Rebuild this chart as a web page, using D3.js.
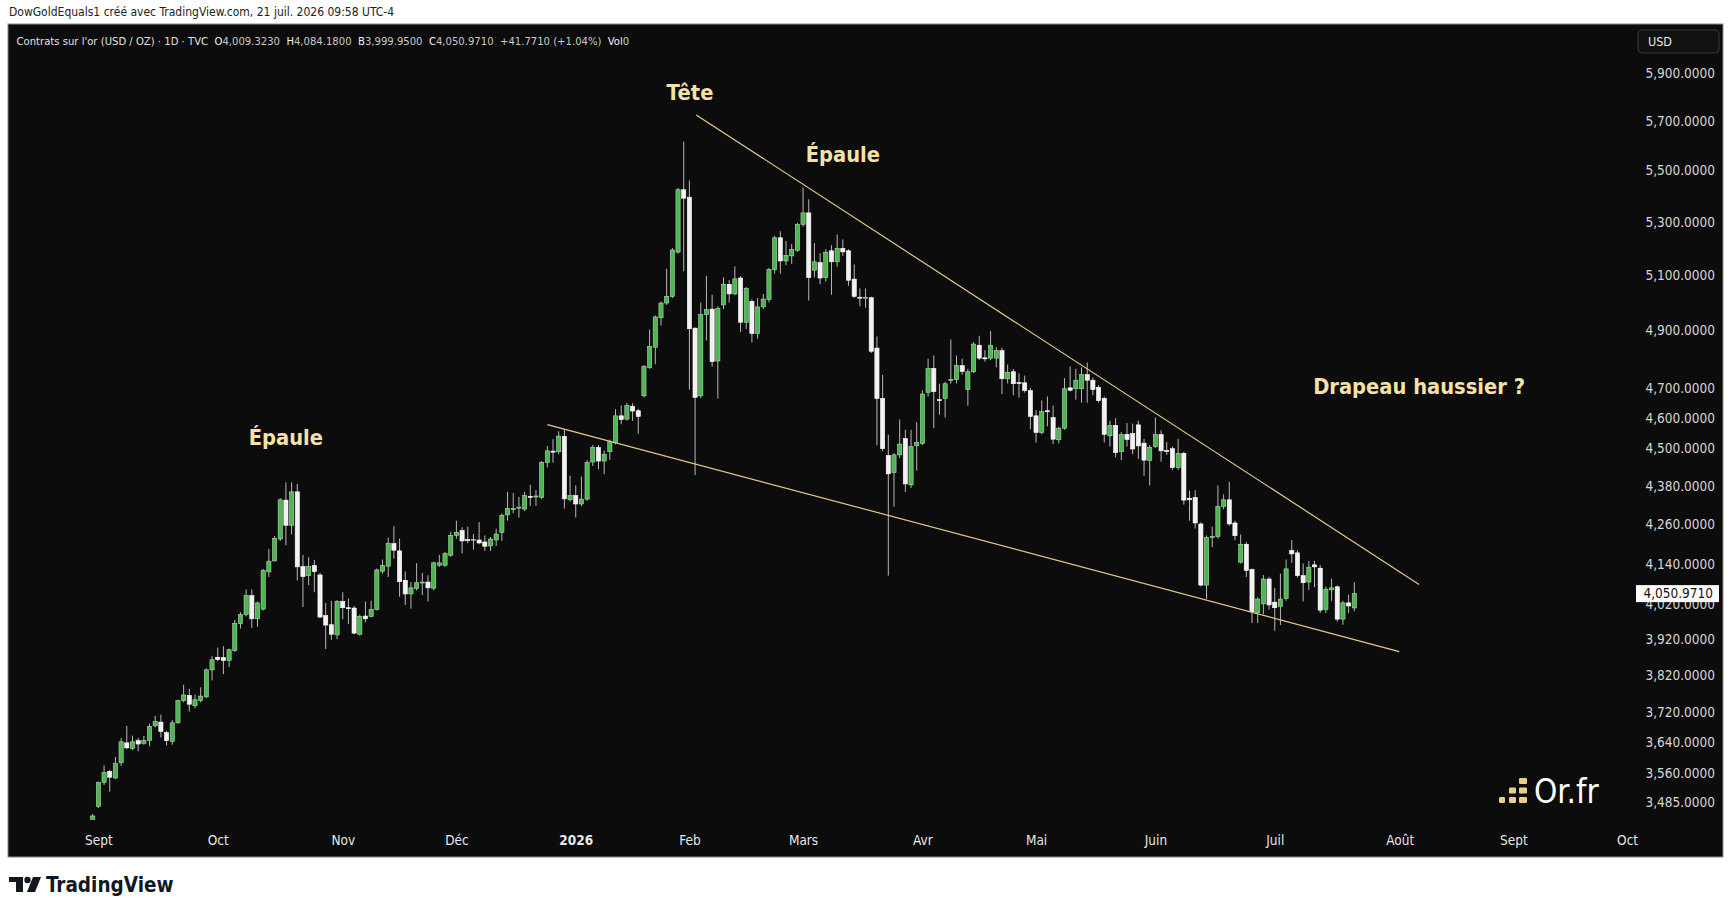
<!DOCTYPE html>
<html>
<head>
<meta charset="utf-8">
<script src="https://cdn.jsdelivr.net/npm/d3@7"></script>
<style>
  body { margin: 0; background: #ffffff; }
  svg { display: block; }
  text { font-family: "DejaVu Sans Condensed", "DejaVu Sans", sans-serif; font-stretch: condensed; }
  .legend { white-space: pre; }
</style>
</head>
<body>
<div id="chart"></div>
<script>
// daily candles [open, high, low, close]
const sep = [
  [3435,3455,3428,3450],[3474,3537,3470,3534],[3535,3578,3528,3560],[3563,3567,3511,3548],
  [3546,3600,3543,3583],[3585,3650,3577,3640],[3637,3682,3620,3624],[3622,3656,3618,3640],
  [3643,3650,3615,3634],[3636,3655,3632,3643],[3643,3688,3628,3681],[3682,3709,3678,3694],
  [3692,3712,3651,3667],[3664,3668,3630,3643],[3641,3698,3632,3690],[3690,3752,3688,3750],
  [3750,3793,3745,3765],[3764,3782,3720,3740],[3736,3766,3729,3752],[3750,3786,3745,3762],
  [3760,3838,3757,3834],[3834,3873,3805,3862]
];
const oct = [
  [3869,3896,3858,3863],[3868,3900,3822,3860],[3860,3893,3842,3890],[3888,3975,3884,3965],
  [3964,3997,3950,3990],[3990,4063,3985,4045],[4045,4063,3952,3978],[3978,4028,3955,4024],
  [4006,4124,4002,4119],[4115,4184,4100,4147],[4148,4223,4146,4216],[4214,4340,4208,4335],
  [4334,4390,4195,4256],[4256,4390,4228,4360],[4360,4385,4090,4130],[4131,4166,4012,4101],
  [4104,4159,4076,4131],[4134,4151,4055,4116],[4106,4112,3980,3983],[3987,4024,3892,3960],
  [3961,4030,3918,3934],[3932,4032,3920,4028]
];
const nov = [
  [4028,4055,3977,4010],[4010,4037,3963,4008],[4009,4015,3934,3937],[3934,3990,3930,3985],
  [3986,4028,3968,3978],[3985,4030,3982,4005],[4005,4125,4002,4121],[4117,4152,4110,4134],
  [4132,4218,4100,4201],[4200,4253,4155,4180],[4178,4215,4042,4086],[4090,4116,4018,4050],
  [4050,4085,4007,4068],[4066,4141,4060,4083],[4083,4112,4047,4085],[4085,4105,4028,4068],
  [4067,4146,4060,4142],[4135,4166,4130,4142],[4135,4175,4130,4170],[4165,4236,4160,4225]
];
const dec = [
  [4225,4270,4215,4234],[4240,4250,4170,4208],[4212,4252,4201,4210],[4211,4229,4182,4213],
  [4211,4266,4198,4202],[4205,4225,4178,4192],[4193,4220,4178,4214],[4211,4245,4193,4229],
  [4234,4292,4208,4287],[4288,4360,4270,4308],[4306,4356,4293,4308],[4310,4344,4280,4312],
  [4306,4360,4300,4348],[4346,4382,4316,4344],[4345,4365,4316,4347],[4343,4458,4338,4453],
  [4453,4507,4437,4491],[4490,4529,4453,4488],[4488,4555,4480,4539],[4538,4560,4308,4338],
  [4335,4411,4330,4348]
];
const jan = [
  [4348,4380,4280,4322],[4322,4409,4315,4337],[4337,4461,4332,4453],[4455,4510,4442,4502],
  [4502,4510,4432,4458],[4458,4492,4416,4480],[4488,4528,4462,4521],[4518,4628,4512,4606],
  [4606,4640,4578,4594],[4595,4649,4590,4640],[4638,4648,4589,4622],[4623,4630,4547,4604],
  [4673,4778,4668,4773],[4770,4902,4765,4843],[4840,4952,4781,4947],[4944,5002,4916,4997],
  [4997,5122,4990,5021],[5021,5200,5015,5192],[5184,5430,5178,5423],[5423,5615,5113,5390]
];
const feb = [
  [5394,5460,4694,4905],[4907,4910,4413,4668],[4673,4999,4665,4955],[4955,5096,4864,4973],
  [4975,5027,4773,4790],[4792,4985,4664,4978],[4990,5090,4975,5065],[5065,5080,4999,5030],
  [5030,5131,5025,5085],[5088,5095,4893,4928],[4928,5055,4904,5050],[5003,5010,4857,4888],
  [4888,5015,4870,4983],[4983,5030,4975,5011],[5009,5125,4999,5119],[5119,5245,5104,5238],
  [5238,5263,5104,5151],[5151,5226,5135,5172],[5170,5215,5140,5194],[5191,5295,5185,5289]
];
const mar = [
  [5289,5432,5280,5333],[5333,5386,5006,5090],[5117,5218,5090,5148],[5145,5180,5065,5088],
  [5090,5195,5075,5184],[5189,5210,5027,5148],[5148,5251,5130,5198],[5198,5232,5170,5185],
  [5189,5195,5060,5080],[5084,5138,5015,5021],[5018,5050,4985,5016],[5016,5050,4980,5018],
  [5016,5020,4820,4826],[4837,4878,4509,4664],[4664,4744,4490,4498],[4476,4544,4104,4417],
  [4421,4484,4314,4478],[4478,4594,4468,4513],[4531,4560,4360,4385],[4382,4560,4372,4505],
  [4508,4585,4427,4518]
];
const apr = [
  [4515,4692,4510,4679],[4685,4800,4670,4766],[4766,4811,4565,4687],[4660,4714,4610,4658],
  [4664,4720,4600,4714],[4726,4867,4714,4729],[4728,4811,4715,4776],[4776,4800,4745,4756],
  [4694,4765,4640,4755],[4755,4858,4750,4851],[4847,4880,4795,4802],[4803,4830,4790,4802],
  [4802,4897,4795,4847],[4802,4840,4770,4828],[4828,4838,4679,4731],[4731,4780,4715,4753],
  [4755,4765,4675,4714],[4718,4749,4667,4716],[4717,4742,4684,4691],[4691,4700,4562,4604]
];
const may = [
  [4606,4625,4518,4551],[4551,4657,4545,4620],[4623,4671,4571,4620],[4600,4640,4513,4529],
  [4527,4570,4515,4565],[4565,4733,4560,4697],[4700,4773,4688,4692],[4697,4765,4660,4726],
  [4697,4770,4650,4745],[4745,4787,4650,4726],[4726,4735,4675,4694],[4702,4710,4650,4657],
  [4664,4670,4518,4545],[4540,4590,4505,4574],[4574,4598,4470,4485],[4488,4552,4461,4544],
  [4545,4582,4505,4528],[4547,4580,4480,4497],[4576,4590,4465,4507],[4516,4530,4411,4461],
  [4460,4510,4380,4502]
];
const jun = [
  [4505,4600,4500,4544],[4544,4558,4456,4491],[4492,4520,4478,4490],[4498,4505,4430,4437],
  [4437,4530,4430,4483],[4483,4488,4320,4334],[4340,4364,4270,4335],[4342,4365,4246,4263],
  [4260,4265,4072,4076],[4076,4225,4035,4218],[4220,4252,4189,4222],[4221,4380,4215,4314],
  [4314,4352,4305,4335],[4335,4392,4255,4260],[4263,4270,4210,4224],[4144,4228,4140,4198],
  [4198,4205,4100,4119],[4122,4125,3966,3998],[3996,4040,3966,4035],[4021,4106,3991,4094],
  [4094,4100,4005,4018]
];
const jul = [
  [4026,4068,3944,4010],[4014,4110,3960,4035],[4037,4152,4030,4124],[4179,4211,4142,4169],
  [4172,4180,4098,4104],[4104,4140,4028,4083],[4085,4148,4062,4129],[4136,4148,4070,4130],
  [4126,4135,3995,4003],[4005,4072,3995,4064],[4062,4095,4030,4068],[4071,4075,3970,3977],
  [3977,4030,3961,4024],[4024,4048,3995,4015],[4009.323,4084.18,3999.95,4050.971]
];

// axes
const monthLabels = ["Sept","Oct","Nov","Déc","2026","Feb","Mars","Avr","Mai","Juin","Juil","Août","Sept","Oct"];
const monthIdx    = [1, 22, 44, 64, 85, 105, 125, 146, 166, 187, 208, 230, 250, 270];
const priceTicks  = [5900,5700,5500,5300,5100,4900,4700,4600,4500,4380,4260,4140,4020,3920,3820,3720,3640,3560,3485];
const lastPrice = 4050.971;

// drawings
const upperLine = [[106.2, 5724], [233.4, 4078]];
const lowerLine = [[80.0, 4577], [229.9, 3885]];
const noteLabels = ["Tête", "Épaule", "Épaule", "Drapeau haussier ?"];
const noteIdx    = [105.1, 132, 34, 233.4];
const notePrice  = [5810, 5555, 4530, 4700];

const W = 1732, H = 908;
const panel = {left: 8, top: 24, right: 1723, bottom: 857};

const svg = d3.select("#chart")
    .append("svg")
    .attr("width", W)
    .attr("height", H);

svg.append("rect").attr("width", W).attr("height", H).attr("fill", "#ffffff");

// top caption
svg.append("text")
    .attr("x", 9).attr("y", 16)
    .attr("font-size", 12)
    .attr("fill", "#222")
    .text("DowGoldEquals1 créé avec TradingView.com, 21 juil. 2026 09:58 UTC-4");

svg.append("rect")
    .attr("x", panel.left).attr("y", panel.top)
    .attr("width", panel.right - panel.left)
    .attr("height", panel.bottom - panel.top)
    .attr("fill", "#0c0c0c")
    .attr("stroke", "#8a8a8a")
    .attr("stroke-width", 1);

const bars = [].concat(sep, oct, nov, dec, jan, feb, mar, apr, may, jun, jul)
    .map((d, i) => ({i: i, o: d[0], h: d[1], l: d[2], c: d[3]}));

// Scales
const x = d3.scaleLinear()
    .domain([0, bars.length - 1])
    .range([92.7, 1354.3]);

const y = d3.scaleLog()
    .domain([3485, 5900])
    .range([802, 73]);

svg.append("defs").append("clipPath")
    .attr("id", "plot-clip")
    .append("rect")
    .attr("x", panel.left).attr("y", 60)
    .attr("width", 1630 - panel.left).attr("height", 820 - 60);

// legend line
const legend = svg.append("text")
    .attr("class", "legend")
    .attr("x", 16.5).attr("y", 45)
    .attr("font-size", 11.2)
    .attr("fill", "#e0e0e0");
legend.append("tspan").text("Contrats sur l'or (USD / OZ) · 1D · TVC  ");
[["O","4,009.3230"],["H","4,084.1800"],["B","3,999.9500"],["C","4,050.9710"]].forEach(p => {
    legend.append("tspan").attr("fill", "#f2f2f2").text(p[0]);
    legend.append("tspan").attr("fill", "#c8c8c8").text(p[1] + "  ");
});
legend.append("tspan").attr("fill", "#c8c8c8").text("+41.7710 (+1.04%)  ");
legend.append("tspan").attr("fill", "#f2f2f2").text("Vol");
legend.append("tspan").attr("fill", "#c8c8c8").text("0");

// USD button
svg.append("rect")
    .attr("x", 1638).attr("y", 30)
    .attr("width", 81).attr("height", 23).attr("rx", 4)
    .attr("fill", "#111").attr("stroke", "#3a3a3a");
svg.append("text")
    .attr("x", 1648).attr("y", 42)
    .attr("dominant-baseline", "middle")
    .attr("font-size", 12.5)
    .attr("fill", "#e8e8e8")
    .text("USD");

// Price axis
const yAxis = svg.append("g")
    .attr("transform", "translate(1715,0)")
    .call(d3.axisRight(y)
        .tickValues(priceTicks)
        .tickFormat(d3.format(",.4f"))
        .tickSize(0));
yAxis.select(".domain").remove();
yAxis.selectAll("text")
    .attr("x", 0).attr("dy", "0.35em")
    .attr("text-anchor", "end")
    .attr("font-family", null)
    .attr("font-size", 13.5)
    .attr("fill", "#d6d6d6");

// Time axis
const xAxis = svg.append("g")
    .attr("transform", "translate(0,833)")
    .call(d3.axisBottom(x)
        .tickValues(monthIdx)
        .tickFormat((d, i) => monthLabels[i])
        .tickSize(0));
xAxis.select(".domain").remove();
xAxis.selectAll("text")
    .attr("y", 7).attr("dy", "0.35em")
    .attr("font-family", null)
    .attr("font-size", 13.5)
    .attr("font-weight", (d, i) => monthLabels[i] == "2026" ? "bold" : null)
    .attr("fill", "#e6e6e6");

// Candles
const plot = svg.append("g").attr("clip-path", "url(#plot-clip)");
const bw = 4.2;

plot.selectAll(".wick")
    .data(bars)
    .enter()
    .append("line")
    .attr("class", "wick")
    .attr("x1", d => x(d.i)).attr("x2", d => x(d.i))
    .attr("y1", d => y(d.h)).attr("y2", d => y(d.l))
    .attr("stroke", "#b8b8b8")
    .attr("stroke-width", 1);

plot.selectAll(".body")
    .data(bars)
    .enter()
    .append("rect")
    .attr("class", "body")
    .attr("x", d => x(d.i) - bw / 2)
    .attr("width", bw)
    .attr("y", d => y(Math.max(d.o, d.c)))
    .attr("height", d => Math.max(1, Math.abs(y(d.o) - y(d.c))))
    .attr("fill", d => d.c > d.o ? "#4fb553" : "#f2f2f2")
    .attr("stroke", d => d.c > d.o ? "#a8dca9" : "#ffffff")
    .attr("stroke-width", 0.6);

// Trend lines
[upperLine, lowerLine].forEach(seg => {
    plot.append("line")
        .attr("x1", x(seg[0][0])).attr("y1", y(seg[0][1]))
        .attr("x2", x(seg[1][0])).attr("y2", y(seg[1][1]))
        .attr("stroke", "#e3c98c")
        .attr("stroke-width", 1.2);
});

// Notes
svg.selectAll(".note")
    .data(noteLabels)
    .enter()
    .append("text")
    .attr("class", "note")
    .attr("x", (d, i) => x(noteIdx[i]))
    .attr("y", (d, i) => y(notePrice[i]))
    .attr("text-anchor", "middle")
    .attr("dominant-baseline", "middle")
    .attr("font-size", 21.7)
    .attr("font-weight", "bold")
    .attr("fill", "#f4e2a8")
    .text(d => d);

// last price label
svg.append("rect")
    .attr("x", 1636).attr("y", y(lastPrice) - 8.5)
    .attr("width", 83).attr("height", 17)
    .attr("fill", "#ffffff");
svg.append("text")
    .attr("x", 1713).attr("y", y(lastPrice))
    .attr("dy", "0.35em")
    .attr("text-anchor", "end")
    .attr("font-size", 13.5)
    .attr("fill", "#111")
    .text(d3.format(",.4f")(lastPrice));

// Or.fr mark
const gold = svg.append("g").attr("fill", "#ebcd8e");
[[1499,797,6,6],[1509,797,7,6],[1509,787.5,7,6],[1519,797,8,6],[1519,787.5,8,6],[1519,778,8,6]].forEach(b => {
    gold.append("rect").attr("x", b[0]).attr("y", b[1]).attr("width", b[2]).attr("height", b[3]).attr("rx", 1.2);
});
svg.append("text")
    .attr("x", 1534).attr("y", 803)
    .attr("font-family", "'Open Sans', sans-serif")
    .attr("font-size", 33)
    .attr("fill", "#ffffff")
    .text("Or.fr");

// TradingView footer
const tv = svg.append("g").attr("fill", "#131722");
tv.append("rect").attr("x", 9).attr("y", 877).attr("width", 14).attr("height", 5);
tv.append("rect").attr("x", 16).attr("y", 877).attr("width", 7).attr("height", 15);
tv.append("circle").attr("cx", 27.5).attr("cy", 880).attr("r", 3.2);
tv.append("path").attr("d", "M33,877 L41,877 L35,892 L27,892 Z");
svg.append("text")
    .attr("x", 46).attr("y", 892)
    .attr("font-family", "'Open Sans', sans-serif")
    .attr("font-size", 20.5)
    .attr("font-weight", 600)
    .attr("fill", "#131722")
    .text("TradingView");
</script>
</body>
</html>
